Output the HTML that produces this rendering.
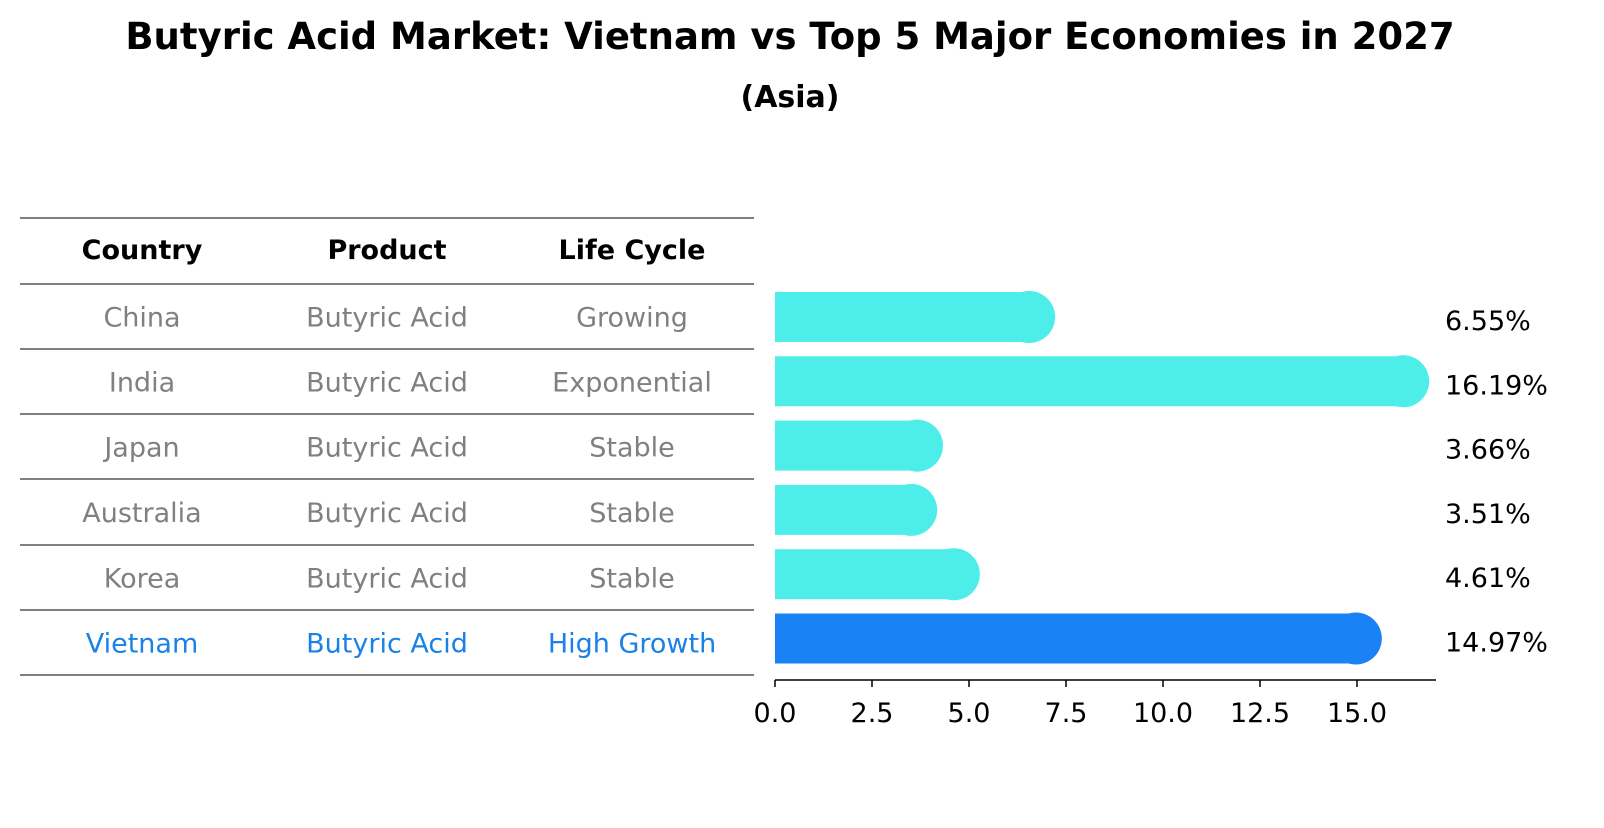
<!DOCTYPE html>
<html><head><meta charset="utf-8"><style>
body{margin:0;background:#fff;font-family:"Liberation Sans","DejaVu Sans",sans-serif;}
</style></head><body>
<svg width="1604" height="823" xmlns="http://www.w3.org/2000/svg" font-family="DejaVu Sans, Liberation Sans, sans-serif">
<text x="790" y="49" text-anchor="middle" font-size="37" font-weight="bold">Butyric Acid Market: Vietnam vs Top 5 Major Economies in 2027</text>
<text x="790" y="107" text-anchor="middle" font-size="30" font-weight="bold">(Asia)</text>
<g id="table"></g>
<g id="bars"></g>
</svg>
<script>
const countries=["China","India","Japan","Australia","Korea","Vietnam"];
const products=["Butyric Acid","Butyric Acid","Butyric Acid","Butyric Acid","Butyric Acid","Butyric Acid"];
const lifeCycles=["Growing","Exponential","Stable","Stable","Stable","High Growth"];
const values=[6.55,16.19,3.66,3.51,4.61,14.97];
const tickVals=[0,2.5,5,7.5,10,12.5,15];
const tickLabels=["0.0","2.5","5.0","7.5","10.0","12.5","15.0"];
const NS="http://www.w3.org/2000/svg";
function mk(tag,attrs,parent){const e=document.createElementNS(NS,tag);for(const k in attrs)e.setAttribute(k,attrs[k]);parent.appendChild(e);return e;}
const x0=775,scale=38.8;
const xs=v=>x0+v*scale;
const rowY=i=>317+i*64.3;
const tbl=document.getElementById('table');
const lineYs=[218,284,349,414,479,545,610,675];
lineYs.forEach((y)=>{const l=mk('line',{x1:20,x2:754,y1:y,y2:y,stroke:'#000','stroke-width':1},tbl);

});
const colX=[142,387,632];
["Country","Product","Life Cycle"].forEach((h,j)=>{const t=mk('text',{x:colX[j],y:259,'text-anchor':'middle','font-size':27,'font-weight':'bold'},tbl);t.textContent=h;

});
countries.forEach((c,i)=>{const col=i===5?'#1a82e6':'#808080';const y=(lineYs[i+1]+lineYs[i+2])/2+10;
[c,products[i],lifeCycles[i]].forEach((s,j)=>{const t=mk('text',{x:colX[j],y:y,'text-anchor':'middle','font-size':27,fill:col},tbl);t.textContent=s;

});});
const bars=document.getElementById('bars');
const h=50,r=26;
values.forEach((v,i)=>{const cy=rowY(i);const col=i===5?'#1a82f5':'#4deeea';const xe=xs(v);
const g=mk('g',{},bars);


mk('rect',{x:x0,y:cy-h/2,width:Math.max(0,xe-x0),height:h,fill:col},g);
mk('circle',{cx:xe,cy:cy,r:r,fill:col},g);
const t=mk('text',{x:1445,y:cy+13,'font-size':27},bars);t.textContent=v.toFixed(2)+'%';

});
const ax=mk('line',{x1:x0,x2:1436,y1:680,y2:680,stroke:'#000','stroke-width':1.5},bars);


tickVals.forEach((v,k)=>{const tk=mk('line',{x1:xs(v),x2:xs(v),y1:680,y2:687,stroke:'#000','stroke-width':1.5},bars);


const t=mk('text',{x:xs(v),y:722,'text-anchor':'middle','font-size':27},bars);t.textContent=tickLabels[k];

});
</script>
</body></html>
